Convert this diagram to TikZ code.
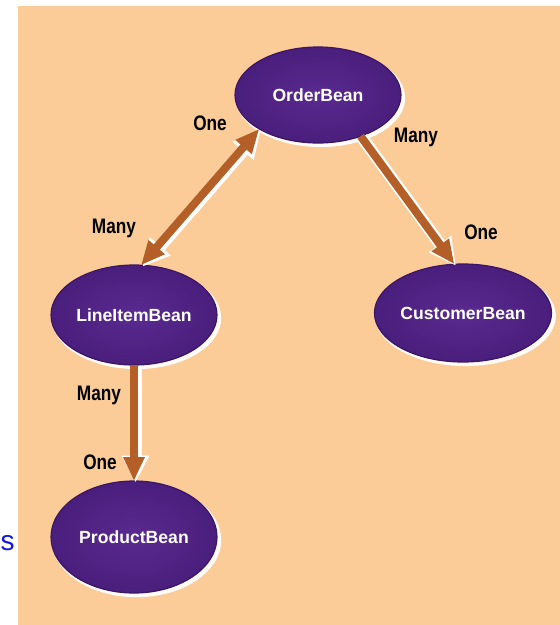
\documentclass[tikz,border=0pt]{standalone}
\usepackage{fontspec}
\setmainfont{Liberation Sans}
\newfontfamily\narrowfont[FakeStretch=0.82]{Liberation Sans}
\usetikzlibrary{shapes.geometric,arrows.meta,shadows}

\definecolor{peach}{HTML}{FCCC98}
\definecolor{beanpurple}{HTML}{5A2A90}
\definecolor{beanrim}{HTML}{4A1E7C}
\definecolor{beandark}{HTML}{3C1566}
\definecolor{linkbrown}{HTML}{B45F28}
\definecolor{linkblue}{HTML}{1414E6}

\tikzset{
  linktip/.tip={Triangle[length=24pt,width=20pt]},
  halotip/.tip={Triangle[length=27pt,width=26pt]},
  bean/.style={ellipse, inner color=beanpurple, outer color=beanrim,
    draw=beandark, line width=1.2pt,
    inner sep=0pt, outer sep=0pt, text=white, minimum width=166pt,
    font=\bfseries\fontsize{17.6}{20}\selectfont,
    drop shadow={fill=white, opacity=0.95, shadow xshift=2.5pt, shadow yshift=-3pt, shadow scale=1.02}},
  link/.style={draw=linkbrown, line width=8pt},
  halo/.style={draw=white, line width=12pt, transform canvas={shift={(1.5pt,-1.5pt)}}},
  mult/.style={font=\narrowfont\bfseries\fontsize{21}{24}\selectfont, text=black, inner sep=0pt}
}

\begin{document}
\begin{tikzpicture}[x=1pt,y=-1pt]
  \useasboundingbox (0,0) rectangle (560,625);
  % page backdrop
  \fill[peach] (18,6) rectangle (560,625);
  \node[anchor=base west, inner sep=0pt, text=linkblue,
    font=\fontsize{28}{32}\selectfont] (frag) at (0.5,550) {s};

  % entity beans
  \node[bean, minimum height=96pt]  (ob) at (318,95)  {OrderBean};
  \node[bean, minimum height=100pt] (li) at (134,315) {LineItemBean};
  \node[bean, minimum height=98pt]  (cb) at (463,313) {CustomerBean};
  \node[bean, minimum height=112pt] (pb) at (134,537) {ProductBean};

  % relationship links: white halo first, brown arrow on top
  \draw[halo, halotip-halotip] (ob.210) -- (li.82);
  \draw[halo, -halotip] (ob.-44) -- (cb.100);
  \draw[halo, -halotip] (li.south) -- (pb.north);
  \draw[link, linktip-linktip] (ob.210) -- (li.82);
  \draw[link, -linktip] (ob.-44) -- (cb.100);
  \draw[link, -linktip] (li.south) -- (pb.north);

  % multiplicities
  \node[mult] (m1) at (210,123) {One};
  \node[mult] (m2) at (416,137) {Many};
  \node[mult] (m3) at (114,228) {Many};
  \node[mult] (m4) at (481,232) {One};
  \node[mult] (m5) at (99,395)  {Many};
  \node[mult] (m6) at (100,462) {One};
\end{tikzpicture}
\end{document}
